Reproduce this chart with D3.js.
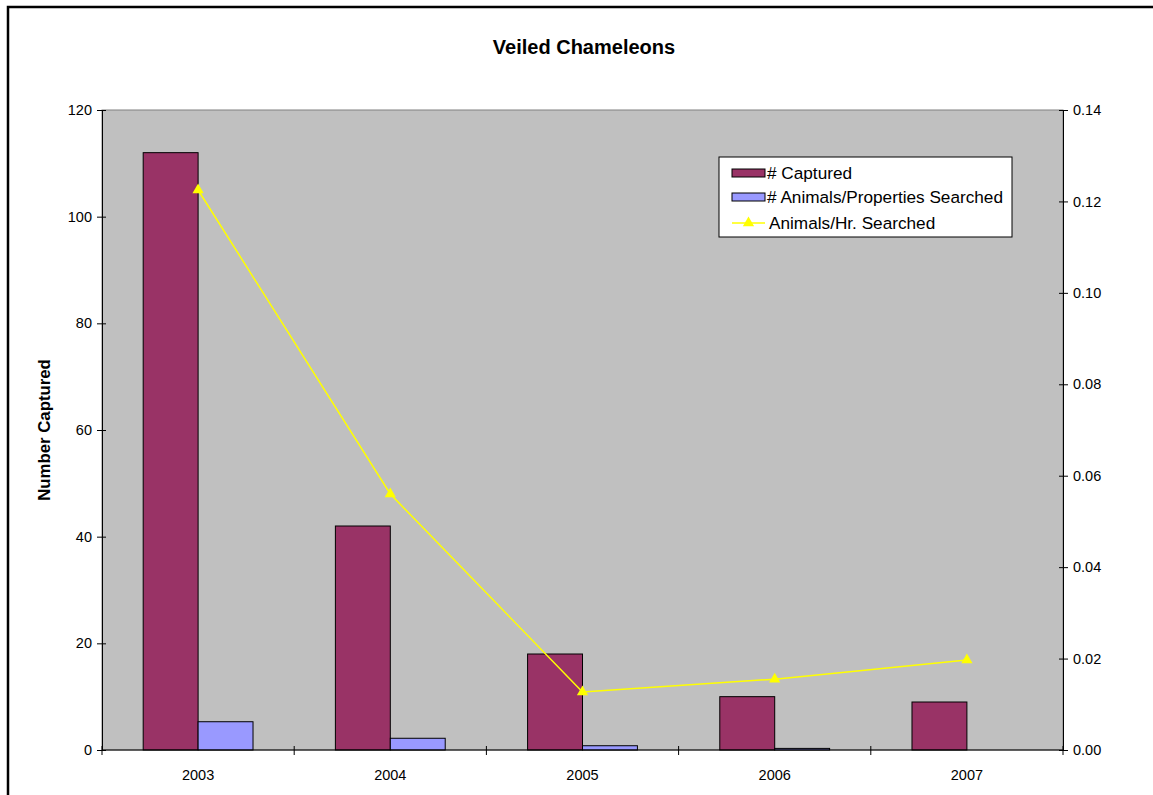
<!DOCTYPE html>
<html><head><meta charset="utf-8">
<script src="https://cdn.jsdelivr.net/npm/d3@7"></script>
<style>body{margin:0;background:#fff;} svg{display:block;font-family:"Liberation Sans",Arial,sans-serif;}</style>
</head><body>
<svg id="c" width="1153" height="795"></svg>
<script>
const years = ["2003","2004","2005","2006","2007"];
const captured = [112, 42, 18, 10, 9];
const searched = [5.3, 2.2, 0.8, 0.3, 0];
const perHour = [0.1225, 0.056, 0.0127, 0.0155, 0.0197];
const leftTicks = [0,20,40,60,80,100,120];
const rightTicks = [0,0.02,0.04,0.06,0.08,0.10,0.12,0.14];
const seriesNames = ["# Captured", "# Animals/Properties Searched", "Animals/Hr. Searched"];
const colors = {captured:"#993366", searched:"#9999FF", line:"#FFFF00", plot:"#C0C0C0"};

const svg = d3.select("#c");
const m = {l:102, r:1063, t:110, b:750};

// outer border
svg.append("rect").attr("x",8).attr("y",7).attr("width",1160).attr("height",800)
  .attr("fill","#fff").attr("stroke","#000").attr("stroke-width",2.5);

const x = d3.scaleBand().domain(years).range([m.l, m.r]).padding(0);
const yL = d3.scaleLinear().domain([0,120]).range([m.b, m.t]);
const yR = d3.scaleLinear().domain([0,0.14]).range([m.b, m.t]);
const bw = x.bandwidth()/3.5;

svg.append("rect").attr("x",m.l).attr("y",m.t).attr("width",m.r-m.l).attr("height",m.b-m.t)
  .attr("fill",colors.plot).attr("stroke","#808080").attr("stroke-width",1);

// bars
svg.append("g").selectAll("rect").data(years).join("rect")
  .attr("x",d=>x(d)+x.bandwidth()/2-bw).attr("width",bw)
  .attr("y",(d,i)=>yL(captured[i])).attr("height",(d,i)=>yL(0)-yL(captured[i]))
  .attr("fill",colors.captured).attr("stroke","#000").attr("stroke-width",1);
svg.append("g").selectAll("rect").data(years).join("rect")
  .attr("x",d=>x(d)+x.bandwidth()/2).attr("width",bw)
  .attr("y",(d,i)=>yL(searched[i])).attr("height",(d,i)=>yL(0)-yL(searched[i]))
  .attr("fill",colors.searched).attr("stroke","#000").attr("stroke-width",1);

// line
const cx = d=>x(d)+x.bandwidth()/2;
svg.append("path").datum(years)
  .attr("d", d3.line().x(cx).y((d,i)=>yR(perHour[i])))
  .attr("fill","none").attr("stroke",colors.line).attr("stroke-width",1.5);
const tri = d3.symbol().type(d3.symbolTriangle).size(55);
svg.append("g").selectAll("path").data(years).join("path")
  .attr("d",tri).attr("transform",(d,i)=>`translate(${cx(d)},${yR(perHour[i])})`)
  .attr("fill",colors.line);

// axes
const axStyle = g => {
  g.attr("font-size",null);
  g.select(".domain").attr("stroke","#000");
  g.selectAll(".tick line").attr("stroke","#000");
  g.selectAll("text").attr("fill","#000").style("font-size","14.5px").style("font-family","Liberation Sans, Arial, sans-serif");
};
const gl = svg.append("g").attr("transform",`translate(${m.l},0)`)
  .call(d3.axisLeft(yL).tickValues(leftTicks).tickSizeInner(5).tickSizeOuter(0).tickPadding(5));
gl.selectAll(".tick line").attr("x2",4).attr("x1",-5);
axStyle(gl);
const gr = svg.append("g").attr("transform",`translate(${m.r},0)`)
  .call(d3.axisRight(yR).tickValues(rightTicks).tickFormat(d3.format(".2f")).tickSizeInner(5).tickSizeOuter(0).tickPadding(5));
gr.selectAll(".tick line").attr("x1",-4).attr("x2",5);
axStyle(gr);

// x axis
const gx = svg.append("g").attr("transform",`translate(0,${m.b})`);
gx.append("line").attr("x1",m.l).attr("x2",m.r).attr("stroke","#000");
const bounds = years.map(d=>x(d)).concat([m.r]);
gx.selectAll("line.t").data(bounds).join("line").attr("class","t")
  .attr("x1",d=>d).attr("x2",d=>d).attr("y1",-4).attr("y2",5).attr("stroke","#000");
gx.selectAll("text").data(years).join("text")
  .attr("x",cx).attr("y",30).attr("text-anchor","middle")
  .style("font-size","14.5px").text(d=>d);

// title
svg.append("text").attr("x",584).attr("y",54).attr("text-anchor","middle")
  .style("font-size","20px").style("font-weight","bold").text("Veiled Chameleons");
svg.append("text").attr("transform",`translate(50,${(m.t+m.b)/2}) rotate(-90)`)
  .attr("text-anchor","middle").style("font-size","16.8px").style("font-weight","bold").text("Number Captured");

// legend
const lg = svg.append("g").attr("transform","translate(719,157)");
lg.append("rect").attr("width",293).attr("height",80).attr("fill","#fff").attr("stroke","#000").attr("stroke-width",1);
const rows = [16, 40, 66];
[colors.captured, colors.searched].forEach((c,i)=>{
  lg.append("rect").attr("x",13).attr("y",rows[i]-4).attr("width",33).attr("height",8)
    .attr("fill",c).attr("stroke","#000");
});
lg.append("line").attr("x1",13).attr("x2",46).attr("y1",rows[2]).attr("y2",rows[2]).attr("stroke",colors.line).attr("stroke-width",1.5);
lg.append("path").attr("d",tri).attr("transform",`translate(29.5,${rows[2]})`).attr("fill",colors.line);
seriesNames.forEach((n,i)=>{
  lg.append("text").attr("x",i==2?50:48).attr("y",rows[i]+6).style("font-size","17.2px").text(n);
});
</script>
</body></html>
